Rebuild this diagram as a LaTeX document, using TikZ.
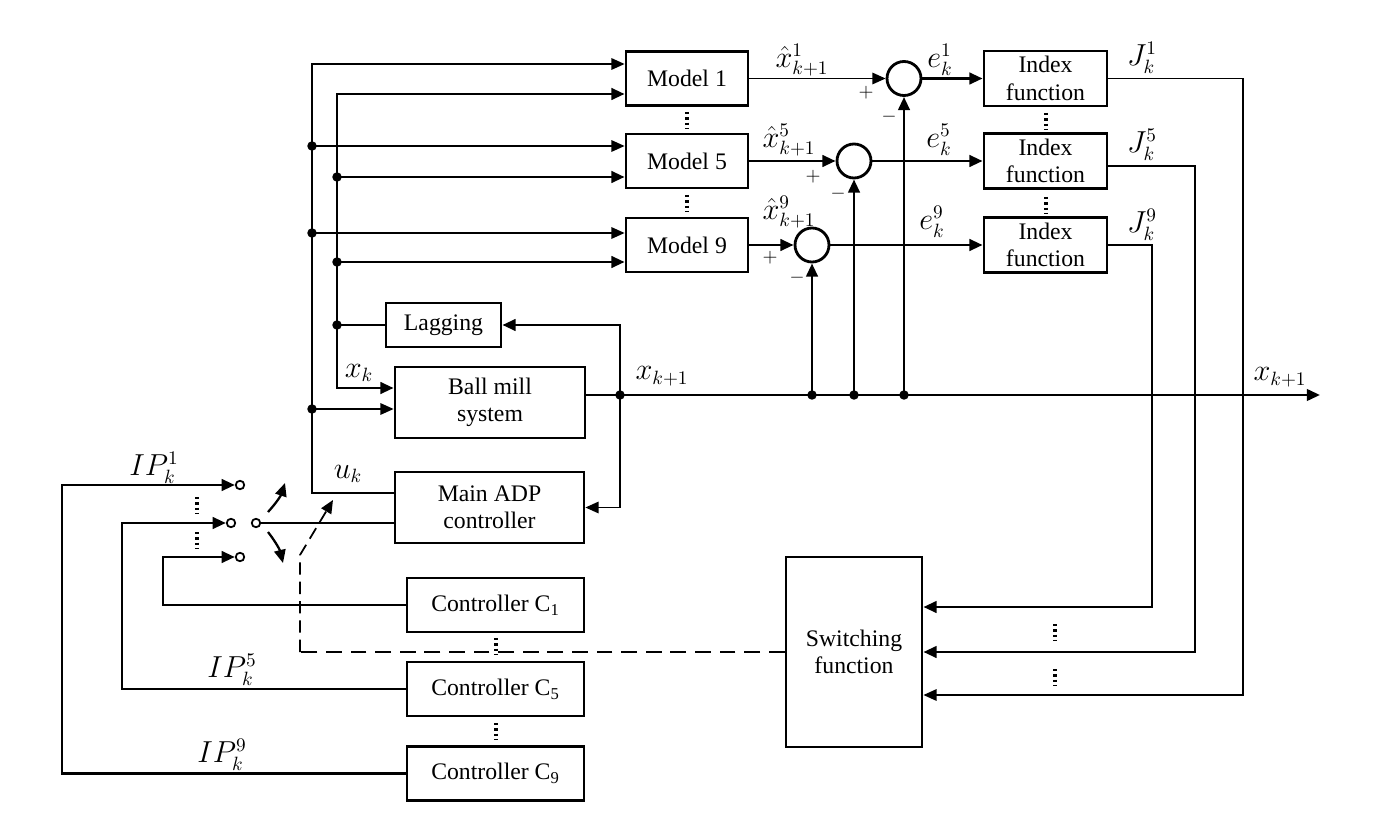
\documentclass[tikz,border=0pt]{standalone}
\usepackage{amsmath}
\usepackage{fontspec}
\setmainfont{Liberation Serif}
\newfontfamily\figfont{Liberation Serif}
\usetikzlibrary{arrows.meta}

\begin{document}
\begin{tikzpicture}[x=0.02cm, y=-0.02cm, line width=1.6pt,
        >={Triangle[length=7.5pt,width=6.5pt]},
        font=\figfont\fontsize{13.5}{15.5}\selectfont,
        blk/.style={draw, line width=1.6pt, align=center, inner sep=1pt},
        sum/.style={draw, circle, line width=1.6pt, minimum size=0.68cm, inner sep=0pt},
        term/.style={draw, circle, line width=1pt, fill=white, minimum size=0.17cm, inner sep=0pt},
        thinline/.style={line width=1pt},
        vdot/.style={line width=1.8pt, dash pattern=on 1.4pt off 1.6pt},
        lbl/.style={font=\fontsize{16}{18}\selectfont, inner sep=0pt},
        sgn/.style={font=\fontsize{11}{12}\selectfont}]
        % Bounding box (pixel grid of the figure)
        \useasboundingbox (0,0) rectangle (1388,817);

        % Model bank
        \node[blk, minimum width=2.44cm, minimum height=1.08cm] (m1) at (687,78.5) {Model 1};
        \node[blk, minimum width=2.44cm, minimum height=1.08cm] (m5) at (687,161) {Model 5};
        \node[blk, minimum width=2.44cm, minimum height=1.08cm] (m9) at (687,245) {Model 9};

        % Summing junctions
        \node[sum] (s1) at (904,78.5) {};
        \node[sum] (s5) at (854,161) {};
        \node[sum] (s9) at (812,245) {};

        % Index functions
        \node[blk, minimum width=2.46cm, minimum height=1.1cm] (ix1) at (1045.5,78.5) {Index\\function};
        \node[blk, minimum width=2.46cm, minimum height=1.1cm] (ix5) at (1045.5,161) {Index\\function};
        \node[blk, minimum width=2.46cm, minimum height=1.1cm] (ix9) at (1045.5,245) {Index\\function};

        % Plant, lag and controllers
        \node[blk, minimum width=2.3cm, minimum height=0.88cm] (lag) at (443.5,325) {Lagging};
        \node[blk, minimum width=3.8cm, minimum height=1.42cm] (bm) at (490,402.5) {Ball mill\\system};
        \node[blk, minimum width=3.78cm, minimum height=1.42cm] (adp) at (489.5,507.5) {Main ADP\\controller};
        \node[blk, minimum width=3.54cm, minimum height=1.08cm] (c1) at (495.5,605) {Controller C\textsubscript{1}};
        \node[blk, minimum width=3.54cm, minimum height=1.08cm] (c5) at (495.5,689) {Controller C\textsubscript{5}};
        \node[blk, minimum width=3.54cm, minimum height=1.08cm] (c9) at (495.5,773.5) {Controller C\textsubscript{9}};
        \node[blk, minimum width=2.72cm, minimum height=3.8cm] (sw) at (854,652) {Switching\\function};

        % Switch terminals
        \node[term] (t1) at (240,485) {};
        \node[term] (t5) at (231,523) {};
        \node[term] (t9) at (240,557) {};
        \node[term] (pole) at (256,523) {};

        % Corner and branch points
        \coordinate (bA) at (312,64);
        \coordinate (bAm) at (312,146);
        \coordinate (uk) at (312,493);
        \coordinate (bB) at (337,94);
        \coordinate (xk) at (337,388);
        \coordinate (lg) at (337,325);
        \coordinate (xo) at (620,395);
        \coordinate (xe) at (1320,395);
        \coordinate (tp9) at (812,395);
        \coordinate (tp5) at (854,395);
        \coordinate (tp1) at (904,395);
        \coordinate (r9) at (1152,607);
        \coordinate (r5) at (1195,652);
        \coordinate (r1) at (1243,695);
        \coordinate (ip1) at (62,485);
        \coordinate (ip5) at (122,523);
        \coordinate (ip9) at (163,557);
        \coordinate (dA) at (300,652);
        \coordinate (dB) at (300,555);
        \coordinate (dC) at (333,500);
        \coordinate (aU1) at (268,512);
        \coordinate (aU2) at (285,483);
        \coordinate (aD1) at (268,532);
        \coordinate (aD2) at (283,563);

        % Control bus u_k
        \draw (uk -| adp.west) -- (uk) -- (bAm);
        \draw[->, thinline] (bAm) -- (bA) -- (bA -| m1.west);
        \foreach \y/\n in {146/m5, 233/m9, 409/bm} {
            \coordinate (q) at (312,\y);
            \fill (q) circle (2.7pt);
            \draw[->, thinline] (q) -- (q -| \n.west);
        }

        % State bus x_k
        \draw[<->] (bB -| m1.west) -- (bB) -- (xk) -- (xk -| bm.west);
        \foreach \y/\n in {177/m5, 262/m9} {
            \coordinate (q) at (337,\y);
            \fill (q) circle (2.7pt);
            \draw[->] (q) -- (q -| \n.west);
        }
        \fill (lg) circle (2.7pt);
        \draw (lag.west) -- (lg);

        % Plant output x_{k+1}
        \draw[->] (xo -| bm.east) -- (xe);
        \fill (xo) circle (2.7pt);
        \draw[->] (xo) |- (lag.east);
        \draw[->, thinline] (xo) |- (adp.east);
        \foreach \t/\s in {tp9/s9, tp5/s5, tp1/s1} {
            \fill (\t) circle (2.7pt);
            \draw[->] (\t) -- (\s.south);
        }

        % Model errors
        \draw[->, thinline] (m1.east) -- (s1.west);
        \draw[->] (m5.east) -- (s5.west);
        \draw[->] (m9.east) -- (s9.west);
        \foreach \i in {1,5,9} {
            \draw[->] (s\i.east) -- (ix\i.west);
        }

        % Indices to switching function
        \draw[->, thinline] (ix1.east) -| (r1) -- (r1 -| sw.east);
        \draw[->] ([yshift=-2.8pt]ix5.east) -| (r5) -- (r5 -| sw.east);
        \draw[->] (ix9.east) -| (r9) -- (r9 -| sw.east);

        % Switch
        \draw (pole) -- (pole -| adp.west);
        \draw[->] (c9.west) -| (ip1) -- (t1);
        \draw[->] (c5.west) -| (ip5) -- (t5);
        \draw[->] (c1.west) -| (ip9) -- (t9);
        \draw[->, line width=1.3pt] (aU1) to[bend right=12] (aU2);
        \draw[->, line width=1.3pt] (aD1) to[bend left=12] (aD2);
        \draw[dash pattern=on 9pt off 5pt] (sw.west) -- (dA);
        \draw[->, thinline, dash pattern=on 7pt off 4pt] (dA) -- (dB) -- (dC);

        % Dotted ellipses
        \foreach \x/\y in {687/112, 687/195, 1046/113, 1046/197, 197/497, 197/532,
                496/638, 496/723, 1055/624, 1055/669} {
            \draw[vdot] (\x,\y) -- ++(0,17);
        }

        % Signal labels
        \node[lbl] at (802,60) {$\hat{x}^{1}_{k+1}$};
        \node[lbl] at (789,140) {$\hat{x}^{5}_{k+1}$};
        \node[lbl] at (789,212) {$\hat{x}^{9}_{k+1}$};
        \node[lbl] at (940,60) {$e^{1}_{k}$};
        \node[lbl] at (939,140) {$e^{5}_{k}$};
        \node[lbl] at (932,222) {$e^{9}_{k}$};
        \node[lbl] at (1142,58) {$J^{1}_{k}$};
        \node[lbl] at (1142,145) {$J^{5}_{k}$};
        \node[lbl] at (1142,225) {$J^{9}_{k}$};
        \node[lbl] at (359,373) {$x_{k}$};
        \node[lbl] at (662,376) {$x_{k+1}$};
        \node[lbl] at (1280,377) {$x_{k+1}$};
        \node[lbl] at (348,474) {$u_{k}$};
        \node[lbl] at (154,468) {$IP^{1}_{k}$};
        \node[lbl] at (232,670) {$IP^{5}_{k}$};
        \node[lbl] at (222,755) {$IP^{9}_{k}$};

        % Signs at the summing junctions
        \node[sgn] at (866,93) {$+$};
        \node[sgn] at (889,117) {$-$};
        \node[sgn] at (813,177) {$+$};
        \node[sgn] at (838,194) {$-$};
        \node[sgn] at (770,258) {$+$};
        \node[sgn] at (797,278) {$-$};
\end{tikzpicture}
\end{document}
